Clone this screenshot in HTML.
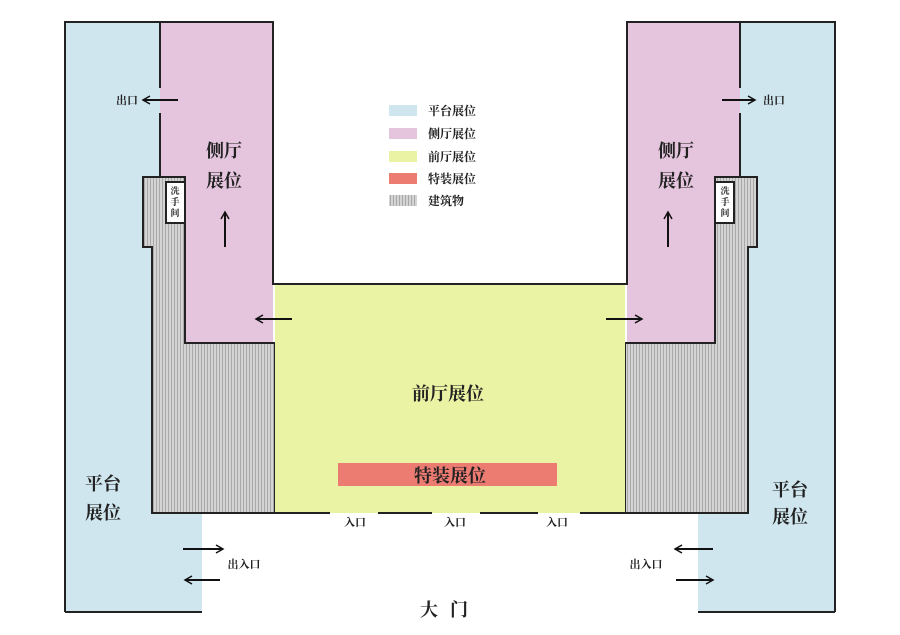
<!DOCTYPE html>
<html><head><meta charset="utf-8"><style>
html,body{margin:0;padding:0;background:#fff;}
svg{display:block;}
text{font-family:"Liberation Serif","Noto Serif CJK SC","Noto Sans CJK SC",serif;font-weight:bold;fill:#222;}
</style></head><body>
<svg width="900" height="635" viewBox="0 0 900 635" xmlns="http://www.w3.org/2000/svg">
<defs>
<pattern id="h" width="3" height="3" patternUnits="userSpaceOnUse">
<rect width="3" height="3" fill="#d4d4d4"/>
<rect width="1" height="3" fill="#a8a8a8"/>
</pattern>
<marker id="a" markerWidth="10" markerHeight="10" refX="8" refY="5" orient="auto" markerUnits="userSpaceOnUse">
<path d="M1,1 L8,5 L1,9" fill="none" stroke="#111" stroke-width="1.5"/>
</marker>
</defs>
<!-- left -->
<rect x="65" y="22" width="95" height="590" fill="#cfe6ee"/>
<rect x="65" y="513" width="137" height="99" fill="#cfe6ee"/>
<rect x="160" y="22" width="113" height="321" fill="#e4c5dd"/>
<path d="M143,177 H185 V343 H275 V513 H152 V247 H143 Z" fill="url(#h)" stroke="#222" stroke-width="2"/>
<rect x="166" y="182" width="19" height="41" fill="#fff" stroke="#222" stroke-width="2"/>
<!-- right -->
<rect x="740" y="22" width="95" height="590" fill="#cfe6ee"/>
<rect x="698" y="513" width="137" height="99" fill="#cfe6ee"/>
<rect x="627" y="22" width="113" height="321" fill="#e4c5dd"/>
<path d="M757,177 H715 V343 H625 V513 H748 V247 H757 Z" fill="url(#h)" stroke="#222" stroke-width="2"/>
<rect x="715" y="182" width="19" height="41" fill="#fff" stroke="#222" stroke-width="2"/>
<!-- yellow -->
<rect x="275" y="284" width="350" height="229" fill="#eaf2a3"/>
<rect x="338" y="463" width="219" height="23" fill="#ec7b72"/>
<!-- outlines -->
<g stroke="#222" stroke-width="2" fill="none">
<path d="M65,612 V22 H273 V284 H627 V22 H835 V612"/>
<path d="M65,612 H202"/><path d="M698,612 H835"/>
<path d="M160,22 V88 M160,113 V177"/>
<path d="M740,22 V88 M740,113 V177"/>
<path d="M152,513 H330 M378,513 H432 M480,513 H538 M580,513 H748"/>
</g>
<g stroke="#111" stroke-width="2" marker-end="url(#a)">
<line x1="178" y1="100" x2="143" y2="100"/>
<line x1="722" y1="100" x2="755" y2="100"/>
<line x1="225" y1="247" x2="225" y2="212"/>
<line x1="668" y1="247" x2="668" y2="212"/>
<line x1="292" y1="319" x2="256" y2="319"/>
<line x1="606" y1="319" x2="642" y2="319"/>
<line x1="183" y1="549" x2="223" y2="549"/>
<line x1="220" y1="580" x2="185" y2="580"/>
<line x1="713" y1="549" x2="675" y2="549"/>
<line x1="676" y1="580" x2="713" y2="580"/>
</g>
<!-- texts -->
<g font-size="18">
<text x="224" y="157" text-anchor="middle">侧厅</text>
<text x="224" y="187" text-anchor="middle">展位</text>
<text x="676" y="157" text-anchor="middle">侧厅</text>
<text x="676" y="187" text-anchor="middle">展位</text>
<text x="103" y="490" text-anchor="middle">平台</text>
<text x="103" y="519" text-anchor="middle">展位</text>
<text x="790" y="496" text-anchor="middle">平台</text>
<text x="790" y="523" text-anchor="middle">展位</text>
<text x="448" y="400" text-anchor="middle">前厅展位</text>
<text x="450" y="482" text-anchor="middle">特装展位</text>
<text x="450" y="616" text-anchor="middle" letter-spacing="12">大门</text>
</g>
<g font-size="11">
<text x="127" y="104" text-anchor="middle">出口</text>
<text x="774" y="104" text-anchor="middle">出口</text>
<text x="355" y="526" text-anchor="middle">入口</text>
<text x="455" y="526" text-anchor="middle">入口</text>
<text x="557" y="526" text-anchor="middle">入口</text>
<text x="244" y="568" text-anchor="middle">出入口</text>
<text x="646" y="568" text-anchor="middle">出入口</text>
</g>
<g font-size="9">
<text x="175" y="194" text-anchor="middle">洗</text>
<text x="175" y="205" text-anchor="middle">手</text>
<text x="175" y="216" text-anchor="middle">间</text>
<text x="725" y="194" text-anchor="middle">洗</text>
<text x="725" y="205" text-anchor="middle">手</text>
<text x="725" y="216" text-anchor="middle">间</text>
</g>
<!-- legend -->
<rect x="389" y="105" width="28" height="11" fill="#cfe6ee"/>
<rect x="389" y="128" width="28" height="11" fill="#e4c5dd"/>
<rect x="389" y="151" width="28" height="11" fill="#eaf2a3"/>
<rect x="389" y="173" width="28" height="11" fill="#ec7b72"/>
<rect x="389" y="195" width="28" height="11" fill="url(#h)"/>
<g font-size="12">
<text x="428" y="115">平台展位</text>
<text x="428" y="138">侧厅展位</text>
<text x="428" y="161">前厅展位</text>
<text x="428" y="183">特装展位</text>
<text x="428" y="205">建筑物</text>
</g>
</svg>
</body></html>
